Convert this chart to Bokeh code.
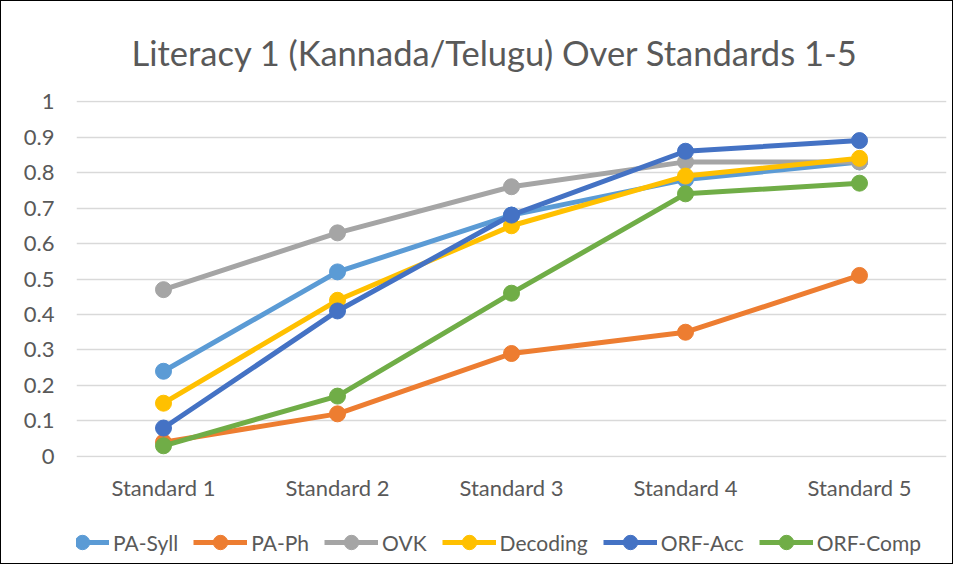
from bokeh.plotting import figure
from bokeh.layouts import column
from bokeh.models import (Range1d, FixedTicker, NumeralTickFormatter, Legend, LegendItem, Title)
from bokeh.embed import file_html
from bokeh.resources import INLINE

categories = ["Standard 1", "Standard 2", "Standard 3", "Standard 4", "Standard 5"]
series_names = ["PA-Syll", "PA-Ph", "OVK", "Decoding", "ORF-Acc", "ORF-Comp"]
pa_syll = [0.24, 0.52, 0.68, 0.78, 0.83]
pa_ph = [0.04, 0.12, 0.29, 0.35, 0.51]
ovk = [0.47, 0.63, 0.76, 0.83, 0.83]
decoding = [0.15, 0.44, 0.65, 0.79, 0.84]
orf_acc = [0.08, 0.41, 0.68, 0.86, 0.89]
orf_comp = [0.03, 0.17, 0.46, 0.74, 0.77]
y_ticks = [0, 0.1, 0.2, 0.3, 0.4, 0.5, 0.6, 0.7, 0.8, 0.9, 1.0]

series_values = [pa_syll, pa_ph, ovk, decoding, orf_acc, orf_comp]
colors = ["#5B9BD5", "#ED7D31", "#A5A5A5", "#FFC000", "#4472C4", "#70AD47"]

FONT = "Lato"
TXT = "#595959"
LW = 5
MS = 16

p = figure(x_range=categories, y_range=Range1d(-0.003, 1.003),
           output_backend="svg", toolbar_location=None,
           min_border_left=75, min_border_right=6, min_border_top=86, min_border_bottom=60)
p.frame_width = 870
p.frame_height = 357

title = Title(text="Literacy 1 (Kannada/Telugu) Over Standards 1-5", align="left",
              text_font=FONT, text_font_size="34.5px", text_color=TXT,
              text_font_style="normal", offset=55, standoff=56)
p.add_layout(title, "above")

p.outline_line_color = None
p.xgrid.grid_line_color = None
p.ygrid.grid_line_color = "#D9D9D9"
p.ygrid.grid_line_width = 1.5
p.yaxis.ticker = FixedTicker(ticks=y_ticks)
p.yaxis.formatter = NumeralTickFormatter(format="0.[0]")
for ax in (p.xaxis, p.yaxis):
    ax.axis_line_color = None
    ax.major_tick_line_color = None
    ax.minor_tick_line_color = None
    ax.major_label_text_font = FONT
    ax.major_label_text_font_size = "22px"
    ax.major_label_text_color = TXT
p.yaxis.major_label_standoff = 16
p.xaxis.major_label_standoff = 10

for name, vals, c in zip(series_names, series_values, colors):
    p.line(categories, vals, line_color=c, line_width=LW)
    p.scatter(categories, vals, size=MS, fill_color=c, line_color=c)

# legend strip (its sample renderers sit outside the visible range)
lf = figure(x_range=categories, y_range=Range1d(10, 11), width=951, height=46,
            output_backend="svg", toolbar_location=None,
            x_axis_type=None, y_axis_type=None,
            min_border_left=0, min_border_right=0, min_border_top=0, min_border_bottom=0)
lf.outline_line_color = None
lf.xgrid.grid_line_color = None
lf.ygrid.grid_line_color = None
items = []
for name, vals, c in zip(series_names, series_values, colors):
    l = lf.line(categories, vals, line_color=c, line_width=LW)
    s = lf.scatter(categories, vals, size=MS, fill_color=c, line_color=c)
    items.append(LegendItem(label=name, renderers=[l, s]))

legend = Legend(items=items, orientation="horizontal", location=(-21, 3),
                label_text_font=FONT, label_text_font_size="21px", label_text_color=TXT,
                glyph_width=54, glyph_height=36, label_standoff=4, spacing=15,
                border_line_color=None, background_fill_alpha=0, padding=0, margin=0)
lf.add_layout(legend, "center")

layout = column(p, lf, spacing=0)
layout.styles = {"border": "1.5px solid black"}

open("out.html", "w").write(file_html(layout, INLINE))
